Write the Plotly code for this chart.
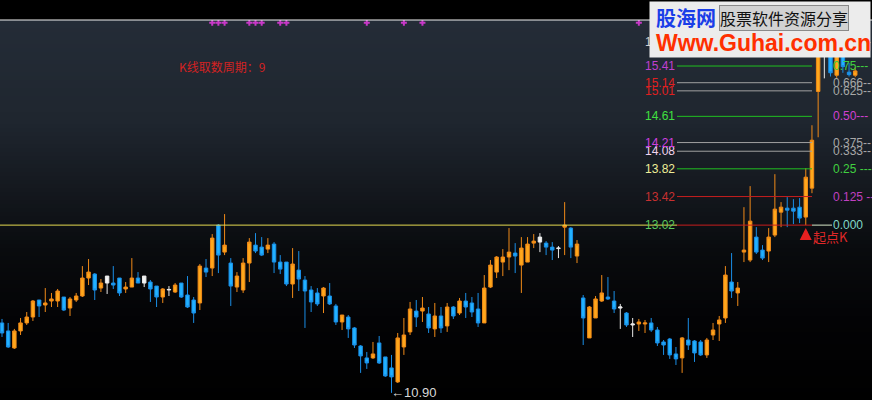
import numpy as np
import plotly.graph_objects as go

# ---------------- data ----------------
opens = [
    11.738, 11.639, 11.431, 11.639, 11.738, 11.812, 12.027, 11.963, 12.014, 12.014,
    12.065, 11.925, 12.027, 12.078, 12.310, 12.362, 12.180, 12.245, 12.245, 12.310,
    12.168, 12.193, 12.310, 12.245, 12.258, 12.206, 12.065, 12.155, 12.129, 12.245,
    12.091, 12.027, 11.989, 12.441, 12.441, 13.020, 12.653, 12.507, 12.193, 12.155,
    12.507, 12.747, 12.720, 12.693, 12.761, 12.520, 12.520, 12.232, 12.414, 12.284,
    12.155, 12.117, 12.078, 12.078, 11.951, 11.750, 11.812, 11.676, 11.455, 11.311,
    11.311, 11.492, 11.323, 11.192, 11.027, 11.443, 11.627, 11.887, 11.887, 11.850,
    11.664, 11.825, 11.701, 11.938, 11.862, 12.014, 11.989, 11.913, 11.738, 12.193,
    12.388, 12.520, 12.587, 12.640, 12.480, 12.520, 12.774, 12.788, 12.774, 12.720,
    12.700, 12.992, 12.979, 12.600, 12.053, 11.553, 11.800, 12.014, 12.065, 12.014,
    11.925, 11.862, 11.713, 11.725, 11.725, 11.738, 11.651, 11.504, 11.540, 11.359,
    11.311, 11.528, 11.516, 11.504, 11.347, 11.589, 11.725, 11.800, 12.258, 12.117,
    12.653, 12.547, 12.856, 12.680, 12.667, 12.883, 13.200, 13.256, 13.256, 13.270,
    13.131, 13.540, 15.00, 15.80, 15.84, 15.26, 15.75, 15.31, 15.26,
]
highs = [
    11.788, 11.738, 11.664, 11.800, 11.875, 12.027, 12.027, 12.180, 12.117, 12.168,
    12.065, 12.065, 12.117, 12.467, 12.560, 12.375, 12.297, 12.336, 12.467, 12.310,
    12.258, 12.573, 12.388, 12.336, 12.284, 12.206, 12.180, 12.206, 12.245, 12.245,
    12.336, 12.065, 12.494, 12.560, 12.897, 13.034, 13.173, 12.573, 12.388, 12.573,
    12.842, 12.910, 12.856, 12.842, 12.788, 12.613, 12.520, 12.707, 12.667, 12.336,
    12.206, 12.180, 12.193, 12.245, 11.977, 11.837, 11.837, 11.688, 11.467, 11.383,
    11.504, 11.577, 11.323, 11.347, 11.614, 11.800, 12.002, 12.027, 12.065, 11.938,
    11.989, 11.938, 11.989, 11.951, 12.053, 12.117, 12.065, 12.117, 12.349, 12.547,
    12.600, 12.693, 12.979, 12.774, 12.856, 12.856, 12.897, 12.910, 12.801, 12.788,
    12.734, 13.341, 12.992, 12.815, 12.091, 11.951, 12.078, 12.349, 12.323, 12.142,
    11.977, 11.875, 11.800, 11.788, 11.775, 11.800, 11.688, 11.528, 11.553, 11.443,
    11.565, 11.800, 11.528, 11.528, 11.553, 11.738, 11.825, 12.467, 12.640, 12.258,
    13.270, 13.569, 12.992, 12.747, 12.979, 13.742, 13.341, 13.412, 13.383, 13.398,
    13.830, 14.473, 16.00, 16.22, 16.05, 15.95, 15.90, 15.46, 15.39,
]
lows = [
    11.565, 11.431, 11.419, 11.589, 11.713, 11.763, 11.812, 11.875, 11.938, 11.938,
    11.887, 11.825, 12.002, 12.065, 12.219, 12.027, 12.129, 12.104, 12.168, 12.078,
    12.117, 12.193, 12.245, 12.193, 12.002, 11.938, 11.989, 12.078, 12.117, 12.053,
    11.925, 11.738, 11.900, 12.323, 12.336, 12.375, 12.613, 11.951, 12.129, 12.117,
    12.258, 12.640, 12.600, 12.640, 12.375, 12.362, 12.206, 12.053, 12.142, 11.676,
    11.875, 11.951, 11.862, 11.963, 11.713, 11.651, 11.553, 11.431, 11.133, 11.180,
    11.299, 11.239, 11.086, 10.90, 11.015, 11.347, 11.589, 11.688, 11.750, 11.614,
    11.565, 11.614, 11.627, 11.788, 11.837, 11.800, 11.812, 11.688, 11.738, 12.180,
    12.310, 12.336, 12.414, 12.375, 12.117, 12.520, 12.707, 12.653, 12.613, 12.547,
    12.573, 12.613, 12.573, 12.507, 11.467, 11.553, 11.800, 12.002, 12.027, 11.862,
    11.664, 11.688, 11.565, 11.639, 11.614, 11.627, 11.455, 11.347, 11.299, 11.227,
    11.133, 11.407, 11.263, 11.335, 11.311, 11.528, 11.516, 11.738, 12.053, 11.951,
    12.520, 12.520, 12.627, 12.547, 12.520, 12.856, 12.992, 12.992, 13.034, 13.048,
    13.020, 13.468, 14.29, 15.21, 15.24, 15.22, 15.30, 15.24, 15.23,
]
closes = [
    11.614, 11.443, 11.639, 11.738, 11.812, 12.014, 11.951, 11.989, 12.040, 12.142,
    11.900, 12.040, 12.078, 12.310, 12.388, 12.155, 12.245, 12.336, 12.219, 12.117,
    12.193, 12.310, 12.245, 12.336, 12.168, 12.065, 12.168, 12.162, 12.219, 12.065,
    11.938, 11.862, 12.467, 12.388, 12.842, 12.613, 12.747, 12.206, 12.336, 12.507,
    12.788, 12.667, 12.613, 12.747, 12.520, 12.427, 12.232, 12.494, 12.297, 12.142,
    12.002, 11.977, 12.180, 11.977, 11.750, 11.837, 11.664, 11.467, 11.335, 11.251,
    11.359, 11.251, 11.097, 11.086, 11.553, 11.589, 11.913, 11.812, 11.925, 11.676,
    11.825, 11.676, 11.938, 11.825, 12.014, 11.938, 11.875, 11.738, 12.180, 12.480,
    12.587, 12.587, 12.653, 12.600, 12.707, 12.761, 12.801, 12.856, 12.720, 12.680,
    12.707, 13.020, 12.720, 12.761, 11.800, 11.938, 12.040, 12.117, 12.040, 11.913,
    11.938, 11.713, 11.725, 11.750, 11.738, 11.651, 11.492, 11.467, 11.347, 11.299,
    11.553, 11.467, 11.371, 11.347, 11.528, 11.651, 11.775, 12.349, 12.142, 12.180,
    12.680, 13.075, 12.653, 12.573, 12.856, 13.242, 13.270, 13.228, 13.214, 13.117,
    13.698, 14.245, 15.91, 15.78, 15.30, 15.75, 15.40, 15.27, 15.33,
]
white_idx = [17, 23, 27, 87, 90, 100, 102, 133]
signal_idx = [34, 35, 36, 40, 41, 42, 45, 46, 59, 65, 68, 103]

level_values = [13.02, 13.42, 13.82, 14.08, 14.21, 14.61, 15.01, 15.14, 15.41, 15.81]
level_ratio_texts = ["0.000", "0.125 --", "0.25 ---", "0.333--", "0.375--",
                     "0.50---", "0.625--", "0.666--", "0.75---", "0.875--"]
level_label_colors = ["#5cc85c", "#c83030", "#eeee99", "#f0d4ee", "#d040e0",
                      "#40e040", "#e02020", "#e02020", "#c040d0", "#d0d0d0"]
level_line_colors = ["#c81e1e", "#c81e1e", "#20c020", "#a0a0a0", "#a0a0a0",
                     "#20c020", "#a0a0a0", "#a0a0a0", "#20c020", "#a0a0a0"]
level_ratio_colors = ["#80d8c8", "#c040c0", "#40d040", "#a8a8a8", "#a8a8a8",
                      "#d040d0", "#a8a8a8", "#a8a8a8", "#40d040", "#a8a8a8"]

start_idx = 130
start_label = "起点K"
low_idx = 63
low_value = 10.90
low_label = "←10.90"
period_label = "K线取数周期：9"

# ---------------- layout geometry ----------------
W, H, TOP = 872, 400, 20
x_lo, x_hi = -0.323, 140.71
y_lo, y_hi = 10.818, 16.18

def px_x(px):
    return x_lo + px / W * (x_hi - x_lo)

def paper_x(px):
    return px / W

def paper_y(py):
    return (H - py) / (H - TOP)

UP_FILL, UP_LINE = "#ffa81c", "#f08a18"
DN_FILL, DN_LINE = "#22b2ff", "#1a8ee6"

idx = np.arange(len(opens))
o, h, l, c = map(np.array, (opens, highs, lows, closes))
is_white = np.isin(idx, white_idx)
main = ~is_white

fig = go.Figure()

# level lines (behind candles)
line_x = [px_x(677), px_x(812)]
fig.add_trace(go.Scatter(x=[px_x(0), px_x(677)], y=[level_values[0]] * 2, mode="lines",
                         line=dict(color="#e6dc50", width=1), hoverinfo="skip", showlegend=False))
fig.add_trace(go.Scatter(x=[px_x(812), px_x(832)], y=[level_values[0]] * 2, mode="lines",
                         line=dict(color="#d8e8c8", width=1), hoverinfo="skip", showlegend=False))
for v, col in zip(level_values, level_line_colors):
    fig.add_trace(go.Scatter(x=line_x, y=[v, v], mode="lines", line=dict(color=col, width=1),
                             hoverinfo="skip", showlegend=False))

fig.add_trace(go.Candlestick(
    x=idx[main], open=o[main], high=h[main], low=l[main], close=c[main],
    increasing=dict(line=dict(color=UP_LINE, width=1), fillcolor=UP_FILL),
    decreasing=dict(line=dict(color=DN_LINE, width=1), fillcolor=DN_FILL),
    whiskerwidth=0, hoverinfo="skip", showlegend=False))
fig.add_trace(go.Candlestick(
    x=idx[is_white], open=o[is_white], high=h[is_white], low=l[is_white], close=c[is_white],
    increasing=dict(line=dict(color="#e8e8e8", width=1), fillcolor="#f4f4f4"),
    decreasing=dict(line=dict(color="#e8e8e8", width=1), fillcolor="#f4f4f4"),
    whiskerwidth=0, hoverinfo="skip", showlegend=False))

# signal marks on the top border
fig.add_trace(go.Scatter(x=signal_idx, y=[0.993] * len(signal_idx), yaxis="y2", mode="markers",
                         marker=dict(symbol="cross", size=5, color="#c838c8", line=dict(width=0)),
                         hoverinfo="skip", showlegend=False))

# ---------------- background gradient ----------------
stops = [(20, (36, 44, 55)), (120, (31, 38, 47)), (190, (20, 24, 30)),
         (250, (9, 11, 14)), (320, (3, 3, 5)), (400, (0, 0, 0))]

def bg_color(py):
    for (y0, c0), (y1, c1) in zip(stops[:-1], stops[1:]):
        if y0 <= py <= y1:
            t = (py - y0) / (y1 - y0)
            return "rgb(%d,%d,%d)" % tuple(round(a + (b - a) * t) for a, b in zip(c0, c1))
    return "rgb(0,0,0)"

shapes = []
for py in range(TOP, H, 4):
    shapes.append(dict(type="rect", xref="paper", yref="paper", x0=0, x1=1,
                       y0=paper_y(py + 4), y1=paper_y(py), line=dict(width=0),
                       fillcolor=bg_color(py + 2), layer="below"))
shapes.append(dict(type="line", xref="paper", yref="paper", x0=0, x1=1, y0=1, y1=1,
                   line=dict(color="#f0f0f0", width=1)))

# ---------------- annotations ----------------
ann = []
lab_font = "Liberation Sans, Arial, sans-serif"
cjk_font = "Noto Sans CJK SC, sans-serif"
for v, txt, col in zip(level_values, level_ratio_texts, level_ratio_colors):
    ann.append(dict(x=paper_x(831), xref="paper", y=np.log10(v), yref="y", text=txt,
                    showarrow=False, xanchor="left", yanchor="middle",
                    font=dict(family=lab_font, size=12, color=col)))
for v, col in zip(level_values, level_label_colors):
    ann.append(dict(x=paper_x(677), xref="paper", y=np.log10(v), yref="y", text="%.2f" % v,
                    showarrow=False, xanchor="right", yanchor="middle",
                    font=dict(family=lab_font, size=12, color=col)))

ann.append(dict(x=paper_x(177), xref="paper", y=paper_y(66), yref="paper", text=period_label,
                showarrow=False, xanchor="left", yanchor="middle",
                font=dict(family=cjk_font, size=12, color="#d42222")))
ann.append(dict(x=low_idx, xref="x", y=np.log10(low_value), yref="y", text=low_label,
                showarrow=False, xanchor="left", yanchor="middle", xshift=-3,
                font=dict(family=lab_font, size=13, color="#d8d8d8")))
ann.append(dict(x=start_idx, xref="x", y=np.log10(lows[start_idx]), yref="y", text="",
                showarrow=True, ax=0, ay=14, arrowhead=2, arrowsize=0.8, arrowwidth=3,
                arrowcolor="#e82020", standoff=3))
ann.append(dict(x=start_idx, xref="x", y=np.log10(lows[start_idx]), yref="y", text=start_label,
                showarrow=False, xanchor="left", yanchor="top", xshift=5, yshift=0,
                font=dict(family=cjk_font, size=13, color="#e02828")))

# watermark box (covers what lies under it)
ann.append(dict(x=paper_x(760), xref="paper", y=paper_y(29.5), yref="paper", text=" ",
                showarrow=False, width=220, height=55, bgcolor="#ececec", borderpad=0,
                xanchor="center", yanchor="middle"))
ann.append(dict(x=paper_x(654), xref="paper", y=paper_y(17), yref="paper", text="<b>股海网</b>",
                showarrow=False, xanchor="left", yanchor="middle",
                font=dict(family=cjk_font, size=20, color="#1a3ee8")))
ann.append(dict(x=paper_x(719), xref="paper", y=paper_y(18), yref="paper", text="股票软件资源分享",
                showarrow=False, xanchor="left", yanchor="middle", bgcolor="#d2d2d2",
                bordercolor="#8a8a8a", borderwidth=1, borderpad=0,
                font=dict(family=cjk_font, size=16, color="#111111")))
ann.append(dict(x=paper_x(654), xref="paper", y=paper_y(43), yref="paper",
                text="<b>Www.Guhai.com.cn</b>", showarrow=False, xanchor="left", yanchor="middle",
                font=dict(family=lab_font, size=23, color="#ff3000")))

fig.update_layout(
    width=W, height=H, margin=dict(l=0, r=0, t=TOP, b=0),
    paper_bgcolor="#000000", plot_bgcolor="#000000",
    showlegend=False, shapes=shapes, annotations=ann, boxgap=0.2,
    xaxis=dict(range=[x_lo, x_hi], visible=False, rangeslider=dict(visible=False),
               fixedrange=True),
    yaxis=dict(type="log", range=[np.log10(y_lo), np.log10(y_hi)], visible=False,
               fixedrange=True),
    yaxis2=dict(overlaying="y", range=[0, 1], visible=False, fixedrange=True),
)

fig.write_html(
    "out.html",
    config={"displayModeBar": False},
    post_script="document.body.style.margin='0';document.body.style.background='#000';"
                "document.body.style.overflow='hidden';",
)
